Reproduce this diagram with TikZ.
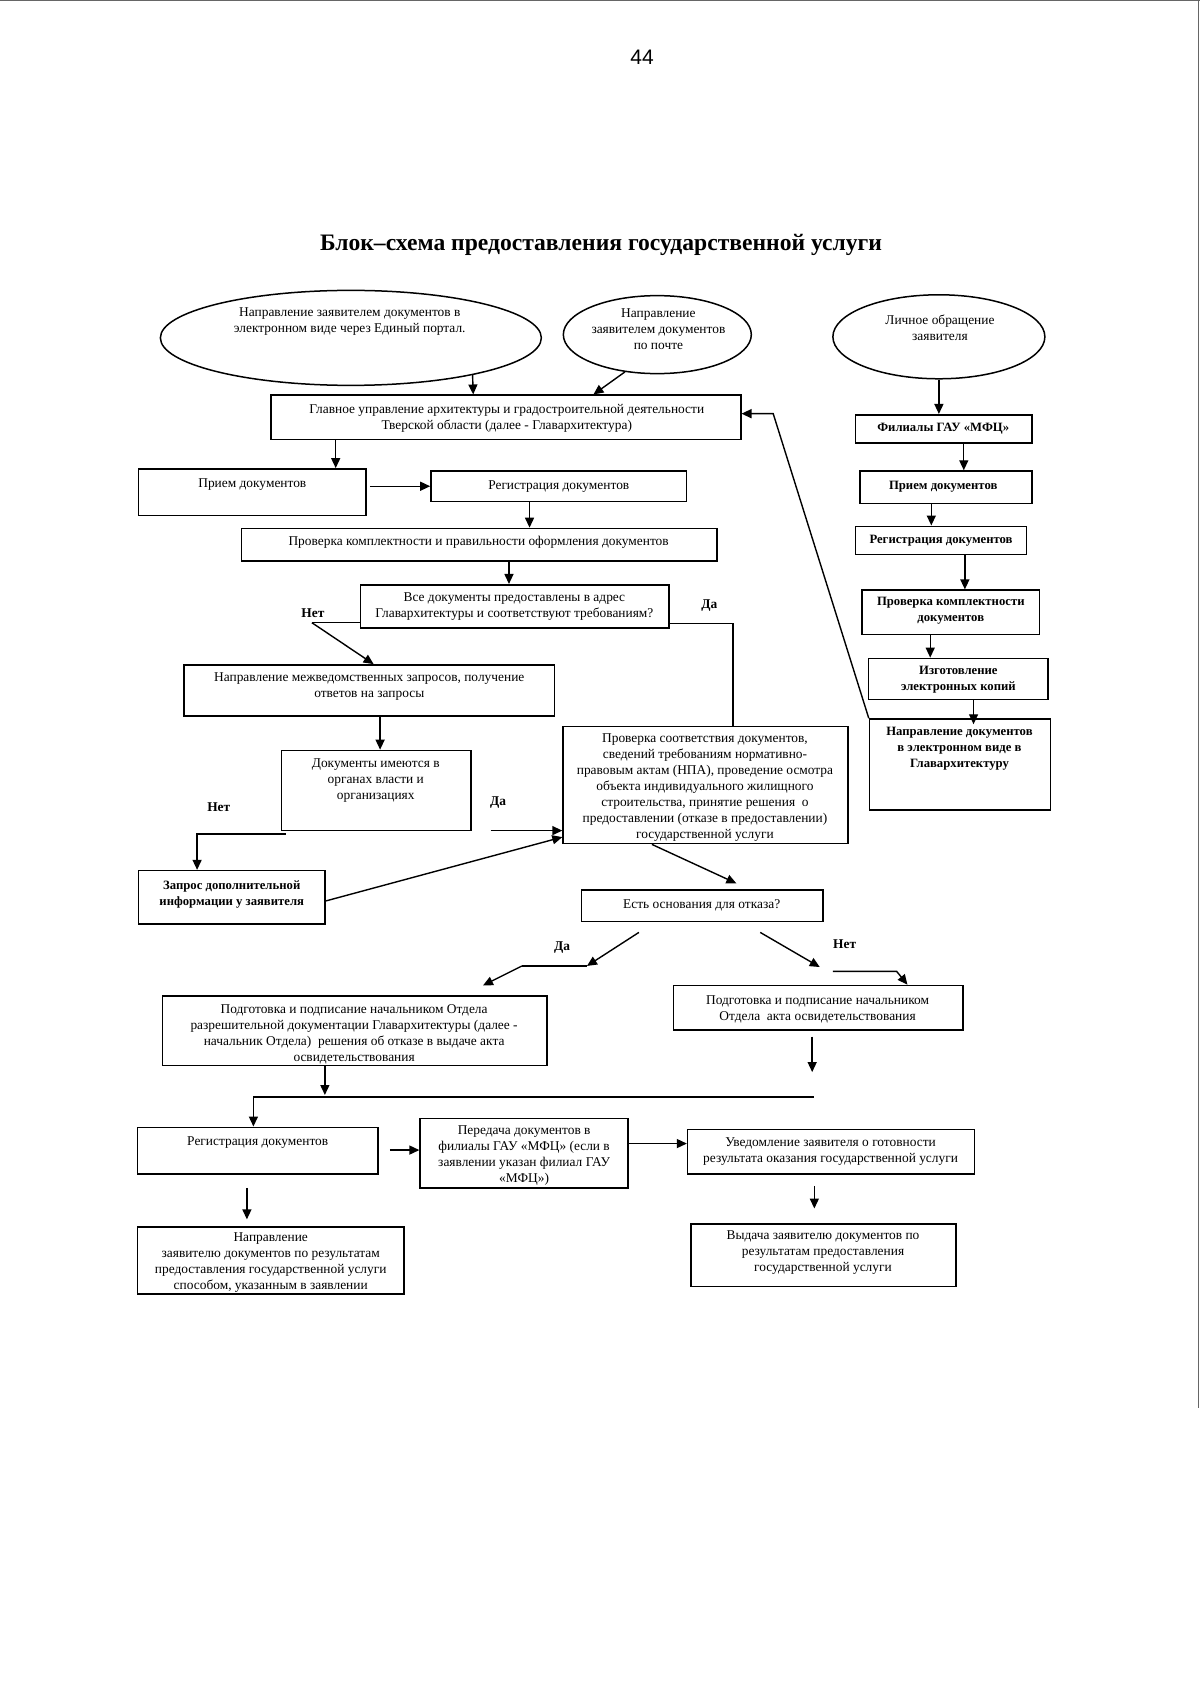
\documentclass[tikz,border=0pt]{standalone}
\usepackage{fontspec}
\setmainfont{Liberation Serif}
\newfontfamily\numfont{Liberation Sans}
\usetikzlibrary{shapes.geometric,arrows.meta,fit}
\begin{document}
\begin{tikzpicture}[x=1.0830pt,y=-1.0830pt,
  box/.style={draw, line width=1.6pt, inner sep=0pt},
  ell/.style={draw, ellipse, line width=1.5pt, inner sep=0pt},
  txt/.style={align=center, font=\fontsize{13.4}{16}\selectfont, inner sep=0pt},
  btxt/.style={align=center, font=\fontsize{12.7}{16}\selectfont\bfseries, inner sep=0pt},
  lbl/.style={font=\fontsize{13.4}{15}\selectfont\bfseries, inner sep=0pt},
  arr/.style={-{Triangle[length=10pt,width=9pt]}, line width=1.4pt},
  ln/.style={line width=1.4pt},
  edge/.style={line width=0.8pt, black!60}]
\useasboundingbox (0,0) rectangle (1108,1568);
\fill[white] (0,0) rectangle (1108,1568);
% scan edges
\draw[edge] (0,0.5) -- (1108,0.5);
\draw[edge] (1106.5,0) -- (1106.5,1300);

% page number and title
\node[font=\numfont\fontsize{21}{24}\selectfont, inner sep=0pt] (pnum) at (593,53) {44};
\node[font=\fontsize{23.6}{28}\selectfont\bfseries, inner sep=0pt] (title) at (555,226) {Блок–схема предоставления государственной услуги};

% ellipses
\node[ell, minimum width=381pt, minimum height=95pt] (E1) at (324,312) {};
\node[txt] (tE1) at (323,297) {Направление заявителем документов в\\электронном виде через Единый портал.};
\node[ell, minimum width=188pt, minimum height=78pt] (E2) at (607,309) {};
\node[txt] (tE2) at (608,304) {Направление\\заявителем документов\\по почте};
\node[ell, minimum width=212pt, minimum height=84pt] (E3) at (867,311) {};
\node[txt] (tE3) at (868,303) {Личное обращение\\заявителя};

% left / centre boxes
\node[box, fit={(250,365)(684,406)}] (main) {};
\node[txt] (tmain) at (468,386) {Главное управление архитектуры и градостроительной деятельности\\Тверской области (далее - Главархитектура)};
\node[box, fit={(128,433)(338,476)}] (pr1) {};
\node[txt] (tpr1) at (233,447) {Прием документов};
\node[box, fit={(398,435)(634,463)}] (reg1) {};
\node[txt] (treg1) at (516,449) {Регистрация документов};
\node[box, fit={(223,488)(662,518)}] (chk1) {};
\node[txt] (tchk1) at (442,501) {Проверка комплектности и правильности оформления документов};
\node[box, fit={(333,540)(618,580)}] (all) {};
\node[txt] (tall) at (475,560) {Все документы предоставлены в адрес\\Главархитектуры и соответствуют требованиям?};
\node[box, fit={(170,614)(512,661)}] (mvr) {};
\node[txt] (tmvr) at (341,634) {Направление межведомственных запросов, получение\\ответов на запросы};
\node[box, fit={(260,693)(435,767)}] (org) {};
\node[txt] (torg) at (347,721) {Документы имеются в\\органах власти и\\организациях};
\node[box, fit={(520,671)(783,779)}] (npa) {};
\node[txt] (tnpa) at (651,727) {Проверка соответствия документов,\\сведений требованиям нормативно-\\правовым актам (НПА), проведение осмотра\\объекта индивидуального жилищного\\строительства, принятие решения~~о\\предоставлении (отказе в предоставлении)\\государственной услуги};
\node[box, fit={(128,804)(300,853)}] (req) {};
\node[btxt] (treq) at (214,826) {Запрос дополнительной\\информации у заявителя};
\node[box, fit={(537,822)(760,851)}] (q) {};
\node[txt] (tq) at (648,836) {Есть основания для отказа?};
\node[box, fit={(150,920)(505,984)}] (refuse) {};
\node[txt] (trefuse) at (327,955) {Подготовка и подписание начальником Отдела\\разрешительной документации Главархитектуры (далее -\\начальник Отдела)~~решения об отказе в выдаче акта\\освидетельствования};
\node[box, fit={(622,910)(889,951)}] (act) {};
\node[txt] (tact) at (755,932) {Подготовка и подписание начальником\\Отдела~~акта освидетельствования};
\node[box, fit={(127,1041)(349,1084)}] (reg3) {};
\node[txt] (treg3) at (238,1055) {Регистрация документов};
\node[box, fit={(388,1033)(580,1097)}] (tr) {};
\node[txt] (ttr) at (484,1067) {Передача документов в\\филиалы ГАУ «МФЦ» (если в\\заявлении указан филиал ГАУ\\«МФЦ»)};
\node[box, fit={(635,1043)(900,1084)}] (notif) {};
\node[txt] (tnotif) at (767,1063) {Уведомление заявителя о готовности\\результата оказания государственной услуги};
\node[box, fit={(127,1133)(373,1195)}] (dir) {};
\node[txt] (tdir) at (250,1166) {Направление\\заявителю документов по результатам\\предоставления государственной услуги\\способом, указанным в заявлении};
\node[box, fit={(638,1130)(883,1188)}] (iss) {};
\node[txt] (tiss) at (760,1157) {Выдача заявителю документов по\\результатам предоставления\\государственной услуги};

% right column
\node[box, fit={(790,383)(953,409)}] (mfc) {};
\node[btxt] (tmfc) at (871,396) {Филиалы ГАУ «МФЦ»};
\node[box, fit={(794,435)(953,465)}] (pr2) {};
\node[btxt] (tpr2) at (871,449) {Прием документов};
\node[box, fit={(790,486)(948,512)}] (reg2) {};
\node[btxt] (treg2) at (869,499) {Регистрация документов};
\node[box, fit={(796,545)(960,586)}] (chk2) {};
\node[btxt] (tchk2) at (878,564) {Проверка комплектности\\документов};
\node[box, fit={(802,608)(968,646)}] (copy) {};
\node[btxt] (tcopy) at (885,628) {Изготовление\\электронных копий};
\node[box, fit={(803,664)(970,748)}] (send) {};
\node[btxt] (tsend) at (886,691) {Направление документов\\в электронном виде в\\Главархитектуру};

% labels
\node[lbl] (l1) at (289,566) {Нет};
\node[lbl] (l2) at (655,559) {Да};
\node[lbl] (l3) at (202,745) {Нет};
\node[lbl] (l4) at (460,741) {Да};
\node[lbl] (l5) at (519,875) {Да};
\node[lbl] (l6) at (780,872) {Нет};

% helper coordinates for free ends
\coordinate (cNo1) at (288,575);
\coordinate (cYes1) at (677,576);
\coordinate (cNo2) at (182,770);
\coordinate (cBack) at (714,382);
\coordinate (cDa1) at (590,861);
\coordinate (cDa2) at (542,892);
\coordinate (cDa3) at (482,892);
\coordinate (cDa4) at (446,910);
\coordinate (cNe1) at (702,861);
\coordinate (cNe2) at (757,893);
\coordinate (cNe3) at (769,897);
\coordinate (cNe4) at (828,897);
\coordinate (jL) at (234,1013);
\coordinate (jR) at (752,1013);

% connectors
\draw[arr] (E1.-17) -- (main.north -| 437,0);
\draw[arr] (E2.-131) -- (main.north -| 548,0);
\draw[arr] (E3.south) -- (mfc.north -| E3.south);
\draw[arr] (main.south -| 310,0) -- (pr1.north -| 310,0);
\draw[arr] ([xshift=3pt]pr1.east |- reg1.west) -- (reg1.west);
\draw[arr] (reg1.south -| 489,0) -- (chk1.north -| 489,0);
\draw[arr] (chk1.south -| 470,0) -- (all.north -| 470,0);
\draw[ln] (all.west |- cNo1) -- (cNo1);
\draw[arr] (cNo1) -- (mvr.north -| 345,0);
\draw[ln] (all.east |- cYes1) -- (cYes1) -- (npa.north -| cYes1);
\draw[arr] (mvr.south -| 351,0) -- (org.north -| 351,0);
\draw[arr] ([xshift=5pt]org.south west |- cNo2) -- (cNo2) -- (req.north -| cNo2);
\draw[arr] (453,767) -- (npa.west |- 0,767);
\draw[arr] (req.east |- 0,832) -- (npa.west |- 0,773);
\draw[arr] (npa.south -| 602,0) -- ([yshift=6pt]q.north -| 680,0);
\draw[arr] (cDa1) -- (cDa2);
\draw[ln] (cDa3) -- (cDa2);
\draw[arr] (cDa3) -- (cDa4);
\draw[arr] (cNe1) -- (cNe2);
\draw[arr] (cNe3) -- (cNe4) -- (act.north -| 838,0);
\draw[arr] (refuse.south -| 300,0) -- ([yshift=2pt]jL -| 300,0);
\draw[ln] (jL) -- (jR);
\draw[arr] ([yshift=-6pt]act.south -| 750,0) -- (750,990);
\draw[arr] (jL) -- (reg3.north -| jL);
\draw[arr] (360,1062) -- (tr.west |- 0,1062);
\draw[arr] (tr.east |- 0,1056) -- (notif.west |- 0,1056);
\draw[arr] (228,1097) -- (228,1126);
\draw[arr] (752,1095) -- (752,1116);
% right column
\draw[arr] (mfc.south -| 890,0) -- (pr2.north -| 890,0);
\draw[arr] (pr2.south -| 860,0) -- (reg2.north -| 860,0);
\draw[arr] (reg2.south -| 891,0) -- (chk2.north -| 891,0);
\draw[arr] (chk2.south -| 859,0) -- (copy.north -| 859,0);
\draw[arr] (copy.south -| 899,0) -- ([yshift=-6pt]send.north -| 899,0);
\draw[arr] (send.north west) -- (cBack) -- (main.east |- cBack);
\end{tikzpicture}
\end{document}
